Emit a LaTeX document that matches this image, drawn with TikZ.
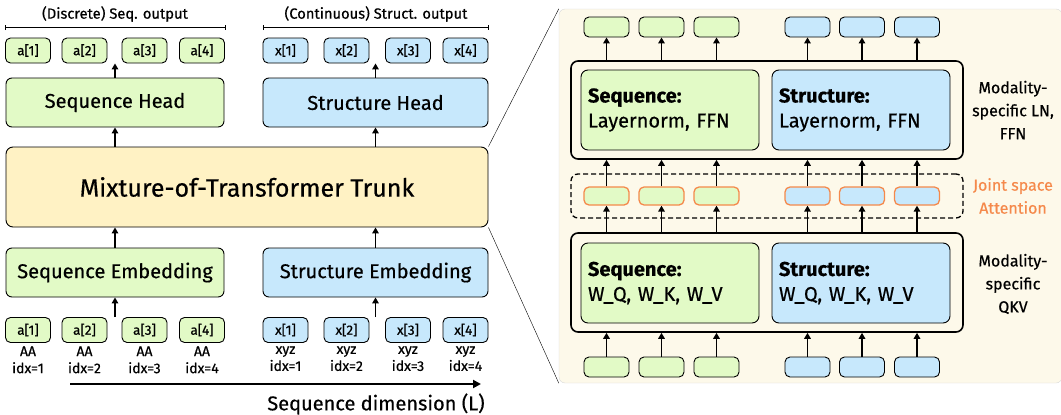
\documentclass[tikz,border=0pt]{standalone}
\usepackage{fontspec}
\setmainfont{Fira Sans}[FakeBold=0.5]
\usetikzlibrary{positioning, arrows.meta}
\definecolor{hijauSeq}{RGB}{226,250,198}
\definecolor{biruStr}{RGB}{199,232,252}
\definecolor{kuningTrunk}{RGB}{255,242,196}
\definecolor{krimPanel}{RGB}{253,249,234}
\definecolor{oranyeAttn}{RGB}{245,137,75}

\begin{document}
\begin{tikzpicture}[
  x=1pt, y=-1pt,
  tok/.style={draw, line width=0.9pt, rounded corners=5pt, minimum width=45pt, minimum height=25pt, inner sep=0pt, font=\fontsize{13.5}{14}\selectfont},
  tokA/.style={tok, fill=hijauSeq},
  tokX/.style={tok, fill=biruStr},
  blk/.style={draw, line width=0.9pt, rounded corners=6pt, minimum height=49pt, inner sep=0pt, font=\fontsize{20}{22}\selectfont},
  mini/.style={draw, line width=0.9pt, rounded corners=5pt, minimum width=45pt, minimum height=20pt, inner sep=0pt},
  miniA/.style={mini, fill=hijauSeq},
  miniX/.style={mini, fill=biruStr},
  outer/.style={draw, line width=1.6pt, rounded corners=7pt, minimum width=392pt, inner sep=0pt},
  inner/.style={draw, line width=0.9pt, rounded corners=7pt, minimum width=178pt, minimum height=80pt, text width=164pt, inner sep=7pt, align=left, font=\fontsize{20}{25}\selectfont},
  sidelbl/.style={align=center, font=\fontsize{16}{23}\selectfont},
  idxlbl/.style={align=center, font=\fontsize{14}{17}\selectfont},
  arr/.style={-{Triangle[length=6pt, width=6.5pt]}, line width=1.5pt},
]
  \useasboundingbox (0,0) rectangle (1061,415);

  % left: tokens, heads, trunk, embeddings
  \foreach \i/\x in {1/28,2/84.5,3/144.5,4/202} {
    \node[tokA] (oa\i) at (\x,50.5) {a[\i]};
    \node[tokA] (ia\i) at (\x,330) {a[\i]};
    \node[idxlbl, below=0pt of ia\i] (la\i) {AA\\idx=\i};
  }
  \foreach \i/\x in {1/285.5,2/346.5,3/408,4/465.5} {
    \node[tokX] (ox\i) at (\x,50.5) {x[\i]};
    \node[tokX] (ix\i) at (\x,330) {x[\i]};
    \node[idxlbl, below=0pt of ix\i] (lx\i) {xyz\\idx=\i};
  }

  \node[blk, fill=hijauSeq, minimum width=218pt] (shead) at (115,102.5) {Sequence Head};
  \node[blk, fill=biruStr, minimum width=225pt] (xhead) at (375.5,102.5) {Structure Head};
  \node[draw, line width=0.9pt, fill=kuningTrunk, rounded corners=7pt, minimum width=482pt, minimum height=80pt,
        font=\fontsize{25}{27}\selectfont] (trunk) at (247,187) {Mixture-of-Transformer Trunk};
  \node[blk, fill=hijauSeq, minimum width=218pt] (semb) at (115,272.5) {Sequence Embedding};
  \node[blk, fill=biruStr, minimum width=225pt] (xemb) at (375.5,272.5) {Structure Embedding};

  % output brackets and titles
  \draw[{Bar[width=5pt]}-{Bar[width=5pt]}] ([yshift=10pt]oa1.north west) -- ([yshift=10pt]oa4.north east);
  \draw[{Bar[width=5pt]}-{Bar[width=5pt]}] ([yshift=10pt]ox1.north west) -- ([yshift=10pt]ox4.north east);
  \node[font=\fontsize{14.7}{18}\selectfont] (tseq) at (115,14) {(Discrete) Seq. output};
  \node[font=\fontsize{14.7}{18}\selectfont] (tstr) at (376,14) {(Continuous) Struct. output};

  \draw[arr] (shead.north) -- (shead.north |- oa1.south);
  \draw[arr] (xhead.north) -- (xhead.north |- ox1.south);
  \draw[arr] (trunk.north -| shead) -- (shead.south);
  \draw[arr] (trunk.north -| xhead) -- (xhead.south);
  \draw[arr] (semb.north) -- (semb.north |- trunk.south);
  \draw[arr] (xemb.north) -- (xemb.north |- trunk.south);
  \draw[arr] (semb.south |- ia1.north) -- (semb.south);
  \draw[arr] (xemb.south |- ix1.north) -- (xemb.south);

  % sequence dimension
  \coordinate (dimA) at (70,384);
  \coordinate (dimB) at (481,384);
  \draw[-{Triangle[length=8pt, width=8pt]}, line width=2pt] (dimA) -- (dimB);
  \node[font=\fontsize{20}{24}\selectfont] (dimlbl) at (376,404) {Sequence dimension (L)};

  % right: zoomed-in layer
  \node[draw=black!15, fill=krimPanel, rounded corners=6pt, minimum width=503pt, minimum height=374pt,
        inner sep=0pt] (panel) at (810.5,196) {};
  \draw (trunk.north east) -- (panel.north west);
  \draw (trunk.south east) -- (panel.south west);

  \node[outer, minimum height=98pt] (ffn) at (767,110) {};
  \node[inner, fill=hijauSeq] (ffnA) at (670,110) {\textbf{Sequence:}\\Layernorm, FFN};
  \node[inner, fill=biruStr] (ffnX) at (861,110) {\textbf{Structure:}\\Layernorm, FFN};
  \node[outer, minimum height=99pt] (qkv) at (767,282.5) {};
  \node[inner, fill=hijauSeq] (qkvA) at (670,283) {\textbf{Sequence:}\\W\_Q, W\_K, W\_V};
  \node[inner, fill=biruStr] (qkvX) at (861,283) {\textbf{Structure:}\\W\_Q, W\_K, W\_V};
  \node[draw, dashed, line width=1.3pt, dash pattern=on 5pt off 3pt, rounded corners=7pt,
        minimum width=392pt, minimum height=44pt, inner sep=0pt] (attn) at (767,196) {};

  \foreach \i/\x in {1/606.5,2/661.5,3/716.5} {
    \node[miniA] (ta\i) at (\x,27) {};
    \node[miniA, draw=oranyeAttn, line width=1.3pt, minimum height=18pt] (aa\i) at (\x,196) {};
    \node[miniA] (ba\i) at (\x,367) {};
  }
  \foreach \i/\x in {1/807.5,2/862,3/917} {
    \node[miniX] (tx\i) at (\x,27) {};
    \node[miniX, draw=oranyeAttn, line width=1.3pt, minimum height=18pt] (ax\i) at (\x,196) {};
    \node[miniX] (bx\i) at (\x,367) {};
  }
  \foreach \n in {ta1,ta2,ta3,tx1,tx2,tx3} {
    \draw[arr] (\n.south |- ffn.north) -- (\n.south);
  }
  \foreach \n in {aa1,aa2,aa3,ax1,ax2,ax3} {
    \draw[arr] (\n.north) -- (\n.north |- ffn.south);
    \draw[arr] (\n.south |- qkv.north) -- (\n.south);
  }
  \foreach \n in {ba1,ba2,ba3,bx1,bx2,bx3} {
    \draw[arr] (\n.north) -- (\n.north |- qkv.south);
  }

  \node[sidelbl] (lblffn) at (1013,110) {Modality-\\specific LN,\\FFN};
  \node[sidelbl, text=oranyeAttn] (lblattn) at (1013,196) {Joint space\\Attention};
  \node[sidelbl] (lblqkv) at (1013,284) {Modality-\\specific\\QKV};
\end{tikzpicture}
\end{document}
